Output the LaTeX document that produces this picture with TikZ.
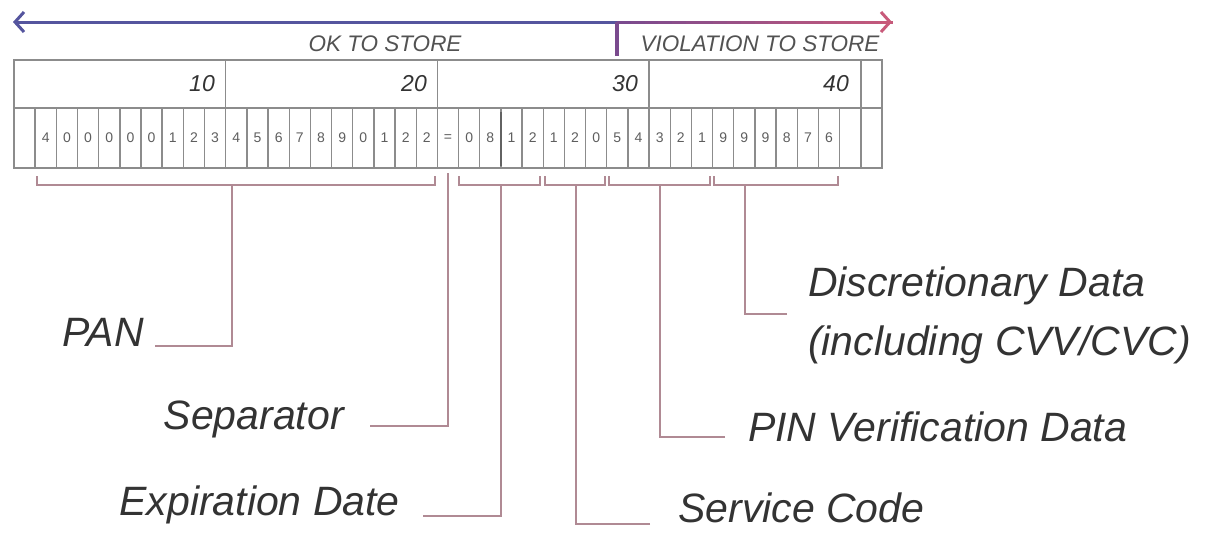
\documentclass[tikz,border=0pt]{standalone}
\usepackage{fontspec}
\setmainfont{Liberation Sans}
\usetikzlibrary{arrows.meta,calc}
\definecolor{okblue}{HTML}{55559E}
\definecolor{vio}{HTML}{7A4A8E}
\definecolor{vred}{HTML}{C85A7A}
\definecolor{tblgray}{HTML}{8C8C8C}
\definecolor{digitgray}{HTML}{5E5E5E}
\definecolor{conncol}{HTML}{B08A94}
\definecolor{txt}{HTML}{333333}
\tikzset{
  tbl/.style={draw=tblgray,line width=1.4pt},
  digit/.style={font=\fontsize{14}{14}\selectfont,text=digitgray,inner sep=0pt},
  hdrnum/.style={font=\fontsize{23}{23}\selectfont\itshape,text=txt,inner sep=0pt,anchor=east},
  zone/.style={font=\fontsize{22.5}{22.5}\selectfont\itshape,text=txt!85,inner sep=0pt},
  lbl/.style={font=\fontsize{41}{41}\selectfont\itshape,text=txt,inner sep=0pt},
  conn/.style={draw=conncol,line width=1.6pt},
  brk/.style={conn,line width=1.4pt},
}
\begin{document}
\begin{tikzpicture}[x=1pt,y=-1pt]
\useasboundingbox (0,0) rectangle (1214,533);
% top arrow
\coordinate (L) at (13,22);
\coordinate (M) at (617,22);
\coordinate (R) at (892,22);
\draw[okblue,line width=3pt,{Straight Barb[length=9pt,width=20pt,line width=3pt]}-] (L) -- (M);
\foreach \i in {0,...,19}{
  \pgfmathsetmacro{\p}{\i*5}
  \draw[vred!\p!vio,line width=3pt] ($(M)+(\i*13.75,0)$) -- ($(M)+(\i*13.75+14.5,0)$);
}
\draw[vred,line width=3pt,-{Straight Barb[length=9pt,width=20pt,line width=3pt]}] ($(R)+(-10,0)$) -- (R);
\coordinate (tickb) at (617,56);
\draw[vio,line width=3.5pt] (M) -- (tickb);
\node[zone] (ok) at (385,44) {OK TO STORE};
\node[zone] (viol) at (760,44) {VIOLATION TO STORE};
% header row
\draw[tbl] (14,60) rectangle (882,108);
\foreach \k in {1,2,3,4}{
  \draw[tbl] (14+\k*10*21.17,60) -- (14+\k*10*21.17,108);
}
\node[hdrnum] (h10) at (215,84) {10};
\node[hdrnum] (h20) at (427,84) {20};
\node[hdrnum] (h30) at (638,84) {30};
\node[hdrnum] (h40) at (849,84) {40};
% digit row
\foreach \d [count=\i from 0] in {{},4,0,0,0,0,0,1,2,3,4,5,6,7,8,9,0,1,2,2,=,0,8,1,2,1,2,0,5,4,3,2,1,9,9,9,8,7,6,{},{}}{
  \draw[tbl] (14+\i*21.17,108) rectangle (14+\i*21.17+21.17,168);
  \node[digit] (c\i) at (14+\i*21.17+10.6,138) {\d};
}
\draw[tblgray!70!black,line width=2pt] (14+23*21.17,112) -- (14+23*21.17,166);
% brackets
\draw[brk] (37,176) -- (37,185) -- (435,185) -- (435,176);
\draw[brk] (459,176) -- (459,185) -- (540,185) -- (540,176);
\draw[brk] (545,176) -- (545,185) -- (605,185) -- (605,176);
\draw[brk] (609,176) -- (609,185) -- (710,185) -- (710,176);
\draw[brk] (714,176) -- (714,185) -- (838,185) -- (838,176);
\coordinate (panS) at (232,185);
\coordinate (sepS) at (448,173);
\coordinate (expS) at (501,185);
\coordinate (svcS) at (576,185);
\coordinate (pinS) at (660,185);
\coordinate (disS) at (745,185);
% labels
\node[lbl,anchor=base east] (pan) at (144,346) {PAN};
\node[lbl,anchor=base east] (sep) at (344,429) {Separator};
\node[lbl,anchor=base east] (exp) at (400,515) {Expiration Date};
\node[lbl,anchor=base west,text depth=0pt] (svc) at (678,522) {Service Code};
\node[lbl,anchor=base west] (pin) at (748,441) {PIN Verification Data};
\node[lbl,anchor=base west] (dis) at (808,296) {Discretionary Data};
\node[lbl,anchor=base west] (dis2) at (808,355) {(including CVV/CVC)};
% connectors
\coordinate (panE) at (155,346);
\coordinate (sepE) at (370,426);
\coordinate (expE) at (423,516);
\coordinate (svcE) at (650,524);
\coordinate (pinE) at (725,437);
\coordinate (disE) at (787,314);
\draw[conn] (panE) -| (panS);
\draw[conn] (sepE) -| (sepS);
\draw[conn] (expE) -| (expS);
\draw[conn] (svcE) -| (svcS);
\draw[conn] (pinE) -| (pinS);
\draw[conn] (disE) -| (disS);
\end{tikzpicture}
\end{document}
